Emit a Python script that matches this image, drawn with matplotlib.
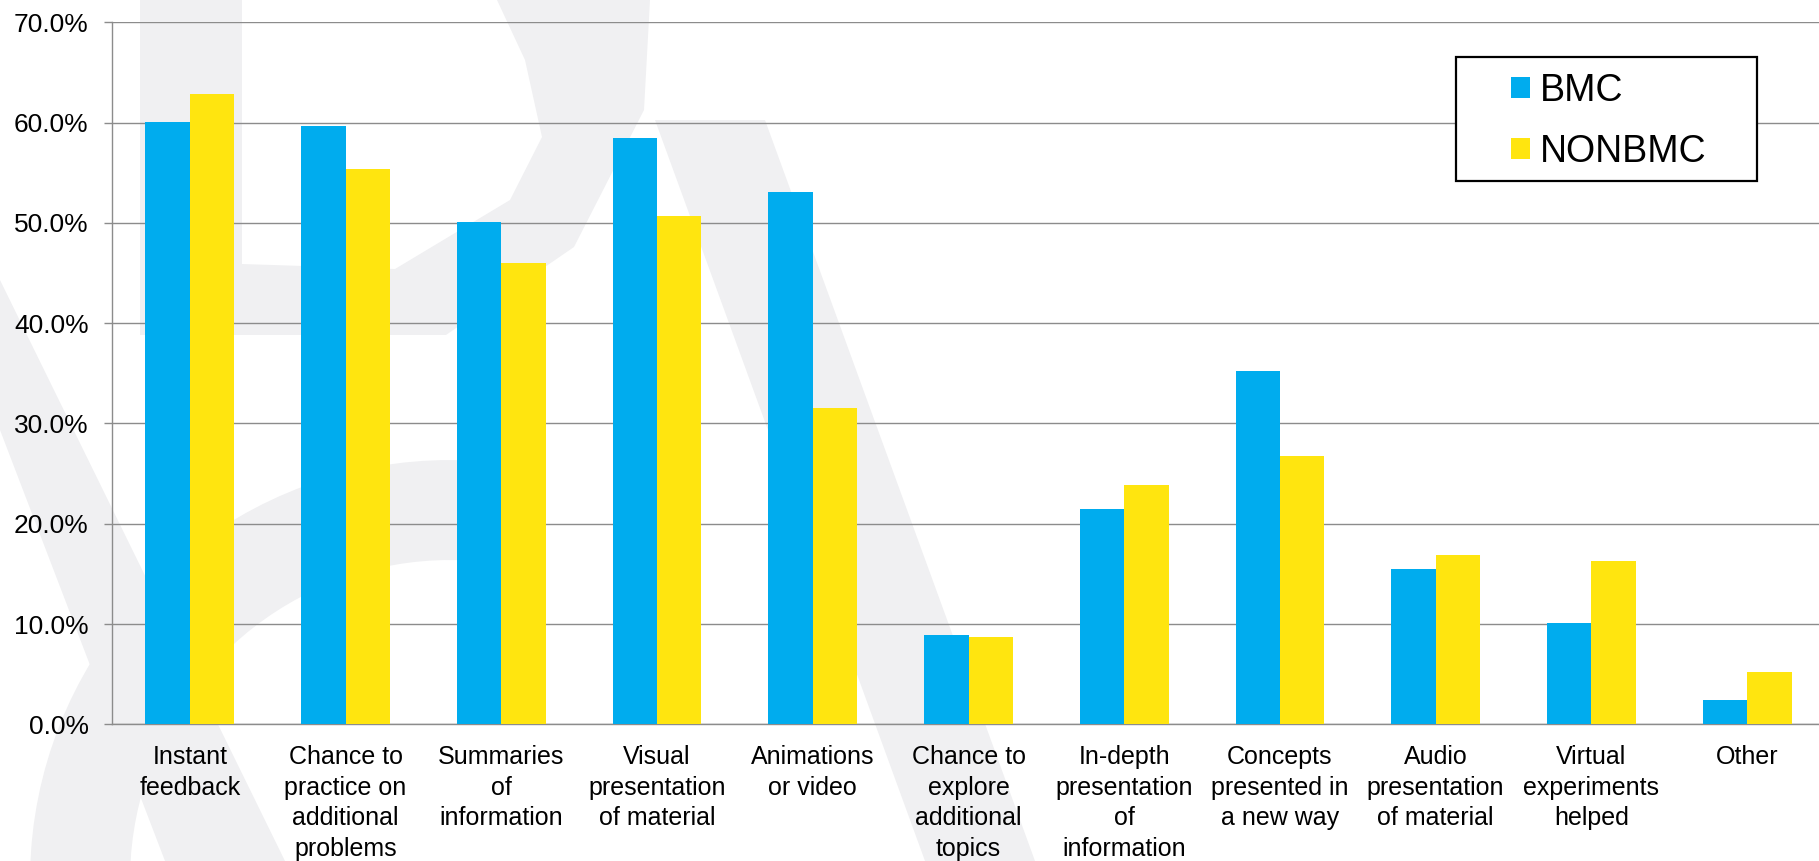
import matplotlib
matplotlib.use("Agg")
import matplotlib.pyplot as plt
import numpy as np
from matplotlib.patches import Polygon, Rectangle
from matplotlib.ticker import PercentFormatter

# ── Data ────────────────────────────────────────────────────────────────────
categories = [
    "Instant\nfeedback",
    "Chance to\npractice on\nadditional\nproblems",
    "Summaries\nof\ninformation",
    "Visual\npresentation\nof material",
    "Animations\nor video",
    "Chance to\nexplore\nadditional\ntopics",
    "In-depth\npresentation\nof\ninformation",
    "Concepts\npresented in\na new way",
    "Audio\npresentation\nof material",
    "Virtual\nexperiments\nhelped",
    "Other",
]
bmc    = [60.1, 59.7, 50.1, 58.5, 53.1, 8.9, 21.5, 35.2, 15.5, 10.1, 2.4]
nonbmc = [62.9, 55.4, 46.0, 50.7, 31.5, 8.7, 23.9, 26.8, 16.9, 16.3, 5.2]
series_names = ["BMC", "NONBMC"]
yticks = [0, 10, 20, 30, 40, 50, 60, 70]

BLUE   = "#00ACEE"
YELLOW = "#FFE50F"
GRID   = "#8C8C8C"
MARK   = "#F0F0F2"   # faint watermark behind the chart

plt.rcParams["font.family"] = ["Liberation Sans", "DejaVu Sans"]

W, H = 1819, 861
fig = plt.figure(figsize=(W / 100, H / 100), dpi=100)


def px(points):
    return [(xp / W, 1 - yp / H) for xp, yp in points]


# ── watermark (rough letter shapes), pixel coords from top-left ─────────────
ang = np.linspace(np.pi, 0.45 * np.pi, 40)
arc_out = [(450 + 420 * np.cos(a), 880 - 420 * np.sin(a)) for a in ang]
arc_in = [(450 + 320 * np.cos(a), 880 - 320 * np.sin(a)) for a in ang[::-1]]
shapes = [
    [(140, 0), (242, 0), (242, 335), (140, 335)],
    [(497, 0), (650, 0), (644, 110), (574, 247), (446, 335), (242, 335),
     (242, 264), (395, 269), (510, 200), (542, 137), (525, 60)],
    [(655, 120), (765, 120), (1035, 861), (925, 861)],
    [(0, 280), (0, 430), (165, 861), (285, 861)],
    arc_out + arc_in,
]
for s in shapes:
    fig.add_artist(Polygon(px(s), closed=True, transform=fig.transFigure,
                           facecolor=MARK, edgecolor="none", zorder=-5))

# ── chart ───────────────────────────────────────────────────────────────────
ax = fig.add_axes([112 / W, (H - 724.3) / H, 1713 / W, 702 / H])
ax.patch.set_alpha(0)

x = np.arange(len(categories))
bw = 0.285
ax.bar(x - bw / 2, bmc, bw, color=BLUE, label=series_names[0], zorder=3)
ax.bar(x + bw / 2, nonbmc, bw, color=YELLOW, label=series_names[1], zorder=3)

ax.set_xlim(-0.5, len(categories) - 0.5)
ax.set_ylim(0, 70)
ax.set_yticks(yticks)
ax.yaxis.set_major_formatter(PercentFormatter(decimals=1))
ax.grid(axis="y", color=GRID, linewidth=1.0, zorder=0)
ax.set_axisbelow(True)

for s in ["top", "right"]:
    ax.spines[s].set_visible(False)
for s in ["left", "bottom"]:
    ax.spines[s].set_color(GRID)
    ax.spines[s].set_linewidth(1.0)

ax.tick_params(axis="y", length=5.8, width=1.0, color=GRID, labelsize=19,
               pad=11, labelcolor="black")
ax.set_xticks(x)
ax.set_xticklabels(categories, fontsize=18, linespacing=1.34)
ax.tick_params(axis="x", length=0, pad=15)

# legend: white box with black border, entries placed inside
ax.add_patch(Rectangle((1456 / W, 1 - 181 / H), 301 / W, 124 / H,
                       transform=fig.transFigure, facecolor="white",
                       edgecolor="black", linewidth=1.6, zorder=4,
                       clip_on=False))
leg = ax.legend(loc="upper left", bbox_to_anchor=(1511 / W, 1 - 73 / H),
                bbox_transform=fig.transFigure, fontsize=27, frameon=False,
                borderaxespad=0, borderpad=0, handlelength=0.5,
                handleheight=0.5, handletextpad=0.28, labelspacing=0.66)
leg.set_zorder(6)

fig.savefig("out.png", dpi=100)
